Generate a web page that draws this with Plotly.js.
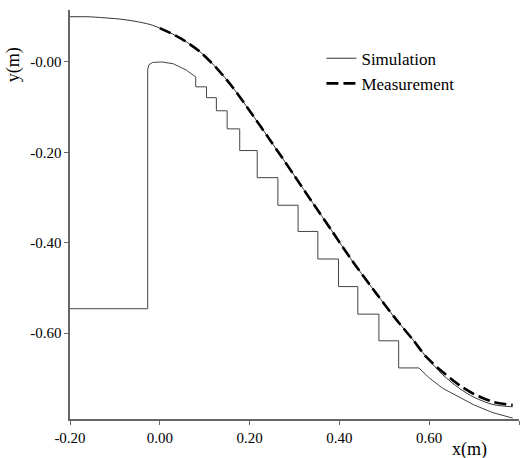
<!DOCTYPE html>
<html>
<head>
<meta charset="utf-8">
<script src="https://cdn.plot.ly/plotly-3.0.1.min.js"></script>
<style>html,body{margin:0;padding:0;background:#fff;}#chart{width:531px;height:458px;}</style>
</head>
<body>
<div id="chart"></div>
<script>
// Simulated free surface (upper thin line)
var surfX = [-0.200, -0.160, -0.127, -0.090, -0.055, -0.022, 0.000, 0.022, 0.052, 0.089, 0.126, 0.163, 0.200, 0.245, 0.300, 0.340, 0.382, 0.430, 0.482, 0.525, 0.564, 0.593, 0.630, 0.667, 0.700, 0.742, 0.786];
var surfY = [0.100, 0.100, 0.098, 0.095, 0.090, 0.083, 0.075, 0.065, 0.049, 0.023, -0.013, -0.057, -0.108, -0.172, -0.252, -0.311, -0.372, -0.442, -0.512, -0.568, -0.615, -0.652, -0.692, -0.722, -0.742, -0.758, -0.763];

// Simulated bed / stepped spillway profile (lower thin line)
var bedX = [-0.200, -0.027, -0.027, -0.024, -0.016, -0.005, 0.005, 0.030, 0.059, 0.080,
            0.080, 0.104, 0.104, 0.126, 0.126, 0.150, 0.150, 0.178, 0.178, 0.217, 0.217, 0.263, 0.263, 0.308, 0.308, 0.352, 0.352, 0.398, 0.398, 0.441, 0.441, 0.488, 0.488, 0.532, 0.532, 0.577,
            0.590, 0.600, 0.630, 0.667, 0.700, 0.742, 0.786];
var bedY = [-0.546, -0.546, -0.016, -0.006, -0.001, 0.000, 0.000, -0.004, -0.018, -0.033,
            -0.055, -0.055, -0.079, -0.079, -0.108, -0.108, -0.148, -0.148, -0.196, -0.196, -0.256, -0.256, -0.317, -0.317, -0.375, -0.375, -0.436, -0.436, -0.497, -0.497, -0.558, -0.558, -0.617, -0.617, -0.677, -0.677,
            -0.690, -0.699, -0.722, -0.742, -0.759, -0.776, -0.788];

// Measured free surface (dashed)
var measX = [0.000, 0.022, 0.052, 0.089, 0.126, 0.163, 0.200, 0.245, 0.300, 0.340, 0.382, 0.430, 0.482, 0.525, 0.564, 0.593, 0.630, 0.667, 0.700, 0.742, 0.786];
var measY = [0.075, 0.065, 0.049, 0.023, -0.013, -0.057, -0.108, -0.172, -0.252, -0.311, -0.372, -0.442, -0.512, -0.568, -0.615, -0.652, -0.686, -0.715, -0.735, -0.752, -0.759];

var xTickVals = [-0.2, 0.0, 0.2, 0.4, 0.6, 0.8];
var xTickText = ['-0.20', '0.00', '0.20', '0.40', '0.60', '0.80'];
var yTickVals = [0.0, -0.2, -0.4, -0.6];
var yTickText = ['-0.00', '-0.20', '-0.40', '-0.60'];

var serif = '"Liberation Serif", "Times New Roman", Times, serif';

var traces = [
  {x: surfX, y: surfY, type: 'scatter', mode: 'lines', name: 'Simulation', legendgroup: 'sim',
   line: {color: '#333333', width: 1, shape: 'spline', smoothing: 0.8}},
  {x: measX, y: measY, type: 'scatter', mode: 'lines', name: 'Measurement',
   line: {color: '#000000', width: 2.6, dash: '12px,5px', shape: 'spline', smoothing: 0.8}},
  {x: bedX, y: bedY, type: 'scatter', mode: 'lines', name: 'Simulation', legendgroup: 'sim', showlegend: false,
   line: {color: '#444444', width: 1}}
];

var axisCommon = {
  showgrid: false, zeroline: false, showline: true, linecolor: '#666666', linewidth: 1.6,
  ticks: 'outside', ticklen: 4, tickwidth: 1, tickcolor: '#666666',
  tickfont: {family: serif, size: 15, color: '#000000'}, tickmode: 'array'
};

var layout = {
  width: 531, height: 458,
  margin: {l: 70, r: 11.5, t: 10, b: 39},
  paper_bgcolor: '#ffffff', plot_bgcolor: '#ffffff',
  font: {family: serif, color: '#000000'},
  showlegend: true,
  legend: {x: 0.56, y: 0.925, xanchor: 'left', yanchor: 'top', bgcolor: 'rgba(0,0,0,0)', borderwidth: 0,
           font: {family: serif, size: 17, color: '#000000'}, tracegroupgap: 0, traceorder: 'normal'},
  xaxis: Object.assign({}, axisCommon, {range: [-0.2, 0.8], tickvals: xTickVals, ticktext: xTickText}),
  yaxis: Object.assign({}, axisCommon, {range: [-0.79, 0.115], tickvals: yTickVals, ticktext: yTickText}),
  annotations: [
    {text: 'x(m)', xref: 'paper', yref: 'paper', x: 0.89, y: -0.075, xanchor: 'center', yanchor: 'middle',
     showarrow: false, font: {family: serif, size: 18, color: '#000000'}},
    {text: 'y(m)', xref: 'paper', yref: 'paper', x: -0.125, y: 0.867, xanchor: 'center', yanchor: 'middle',
     textangle: -90, showarrow: false, font: {family: serif, size: 18, color: '#000000'}}
  ]
};

Plotly.newPlot('chart', traces, layout, {displayModeBar: false, staticPlot: true});
</script>
</body>
</html>
